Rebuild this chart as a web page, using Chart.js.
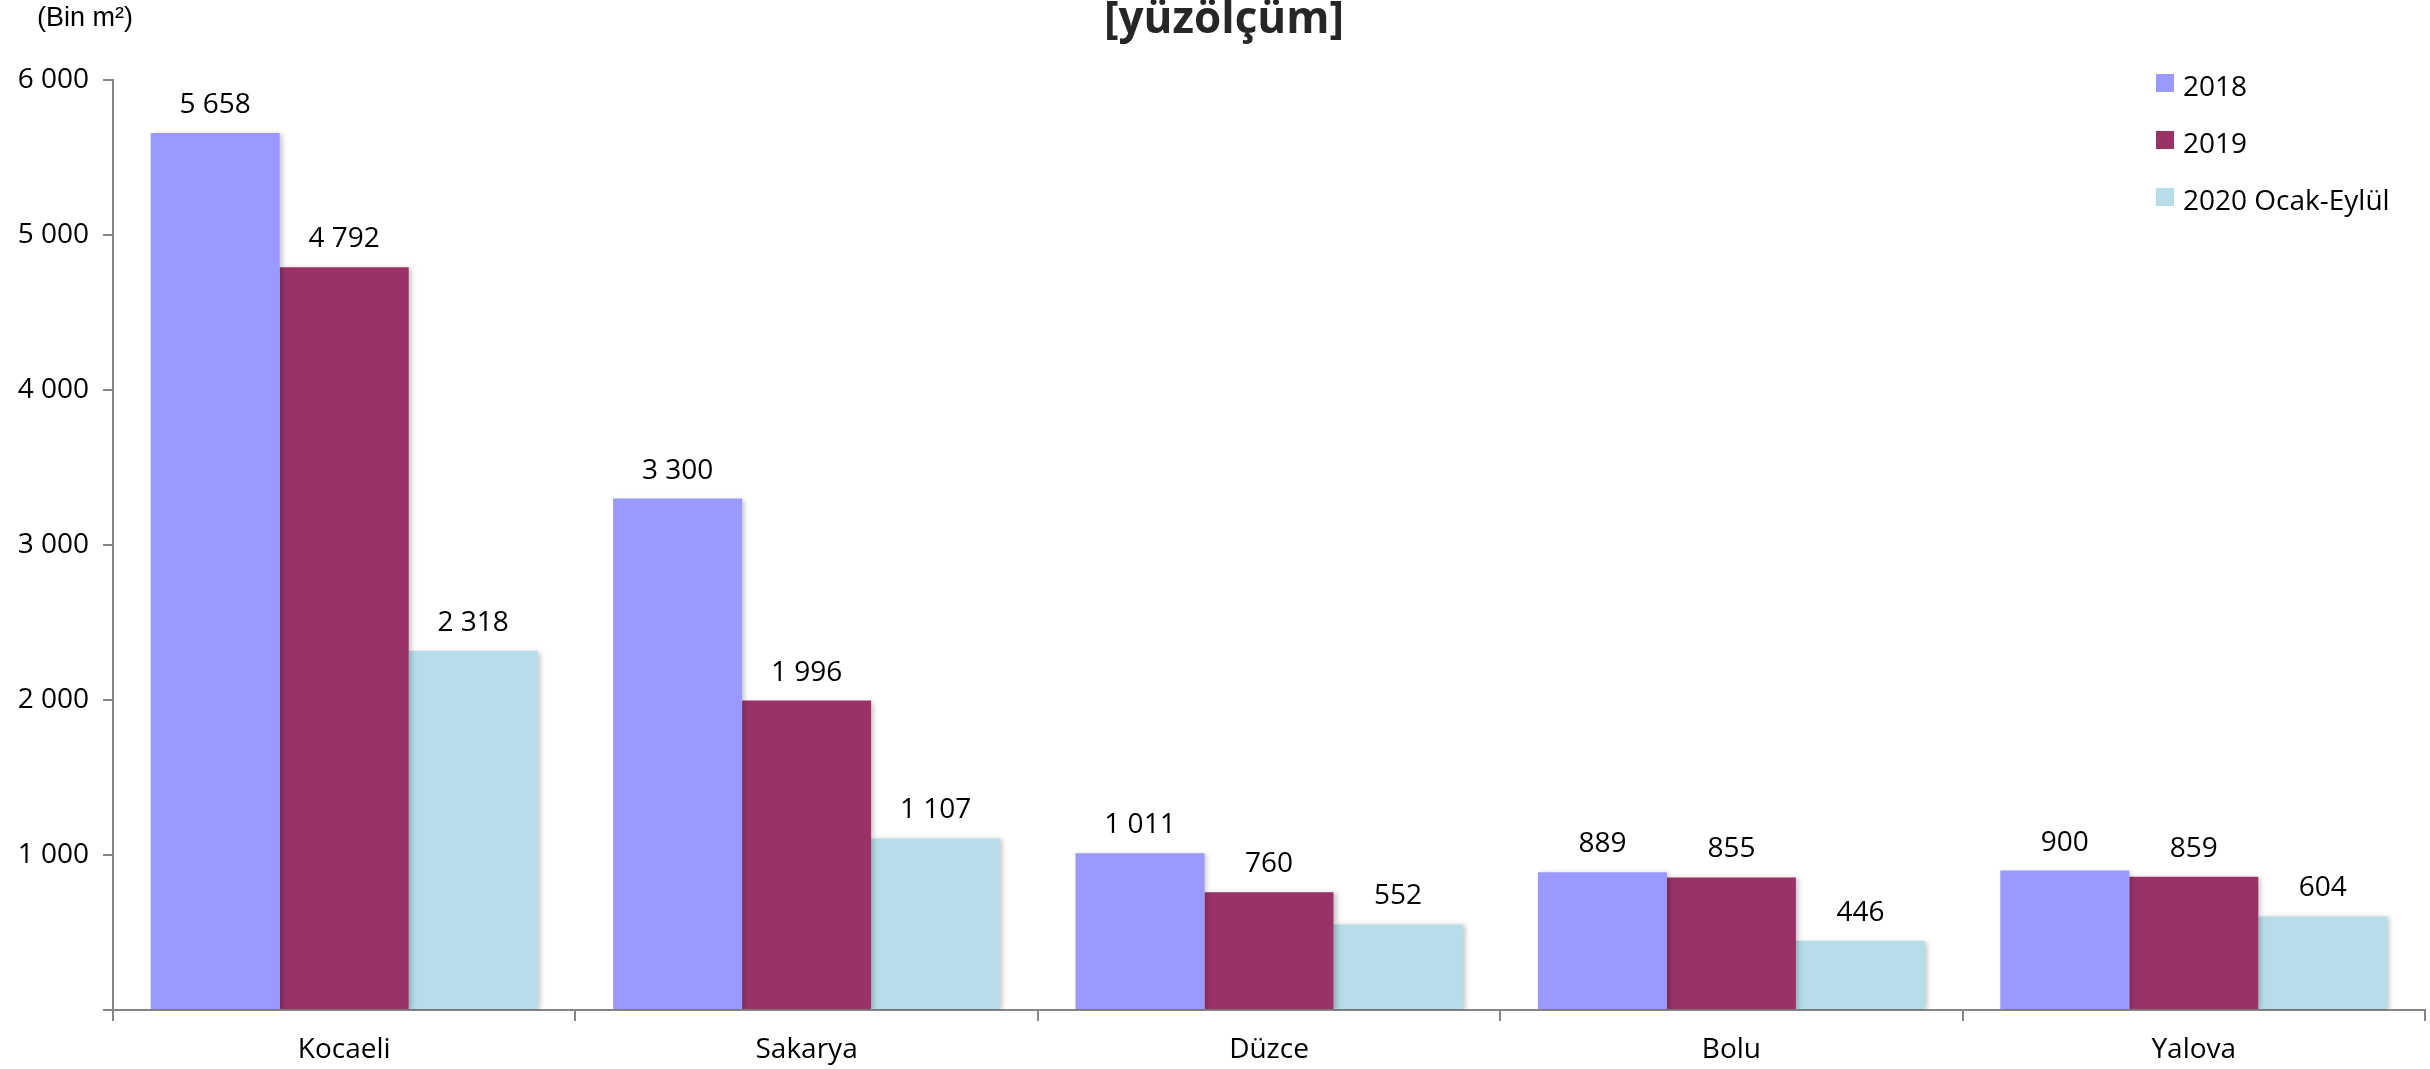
<!DOCTYPE html>
<html>
<head>
<meta charset="utf-8">
<script src="https://cdn.jsdelivr.net/npm/chart.js@4/dist/chart.umd.min.js"></script>
<style>
  html, body { margin: 0; padding: 0; background: #fff; }
  #wrap { position: relative; width: 2430px; height: 1069px; overflow: hidden; }
  #legend { position: absolute; left: 2156px; top: 66px; font-family: "Open Sans", sans-serif; font-size: 28px; color: #000; }
  #legend div { height: 57px; display: flex; align-items: flex-start; }
  #legend span.box { display: inline-block; width: 18px; height: 18px; margin-right: 9px; margin-top: 8px; }
</style>
</head>
<body>
<div id="wrap">
  <canvas id="grafico" width="2430" height="1069"></canvas>
  <div id="legend"></div>
</div>
<script>
// Datos
const iller = ['Kocaeli', 'Sakarya', 'Düzce', 'Bolu', 'Yalova'];
const seriler = ['2018', '2019', '2020 Ocak-Eylül'];
const veri2018 = [5658, 3300, 1011, 889, 900];
const veri2019 = [4792, 1996, 760, 855, 859];
const veri2020 = [2318, 1107, 552, 446, 604];
const renkler = ['#9999FF', '#993366', '#B7DEE8'];
const eksenDegerleri = [0, 1000, 2000, 3000, 4000, 5000, 6000];

const baslik = '[yüzölçüm]';
const birim = '(Bin m²)';

// Sayi formati: 5 658
function formatla(n) {
    return n.toString().replace(/\B(?=(\d{3})+(?!\d))/g, ' ');
}

// Gölge
const golgePlugin = {
    id: 'golge',
    beforeDatasetsDraw(chart) {
        const ctx = chart.ctx;
        ctx.save();
        ctx.shadowColor = 'rgba(0,0,0,0.22)';
        ctx.shadowBlur = 5;
        ctx.shadowOffsetX = 3;
        ctx.shadowOffsetY = 1;
    },
    afterDatasetsDraw(chart) {
        chart.ctx.restore();
    }
};

// Etiketler ve başlık
const etiketPlugin = {
    id: 'etiketler',
    afterDraw(chart) {
        const ctx = chart.ctx;
        ctx.save();
        ctx.fillStyle = '#000';
        ctx.font = '28px "Open Sans"';
        ctx.textAlign = 'center';
        ctx.textBaseline = 'alphabetic';
        chart.data.datasets.forEach((ds, i) => {
            chart.getDatasetMeta(i).data.forEach((bar, j) => {
                ctx.fillText(formatla(ds.data[j]), bar.x, bar.y - 20);
            });
        });

        ctx.fillStyle = '#262626';
        ctx.font = 'bold 44px "Open Sans"';
        ctx.fillText(baslik, 1224, 33);

        ctx.fillStyle = '#000';
        ctx.textAlign = 'left';
        ctx.font = '27px "Liberation Sans"';
        ctx.fillText(birim, 37, 26);
        ctx.restore();
    }
};

const datasets = [veri2018, veri2019, veri2020].map((d, i) => ({
    label: seriler[i],
    data: d,
    backgroundColor: renkler[i],
    borderWidth: 0,
    categoryPercentage: 0.837,
    barPercentage: 1.0
}));

new Chart(document.getElementById('grafico'), {
    type: 'bar',
    data: { labels: iller, datasets: datasets },
    options: {
        responsive: false,
        animation: false,
        events: [],
        layout: { padding: { top: 80, right: 5, left: 0, bottom: 0 } },
        plugins: {
            legend: { display: false },
            tooltip: { enabled: false }
        },
        scales: {
            x: {
                afterFit(scale) { scale.height = 59; },
                grid: {
                    offset: true,
                    drawOnChartArea: false,
                    drawTicks: true,
                    tickLength: 11,
                    color: '#868686',
                    lineWidth: 2
                },
                border: { color: '#868686', width: 2 },
                ticks: {
                    color: '#000',
                    font: { family: 'Open Sans', size: 28 },
                    padding: 12
                }
            },
            y: {
                min: 0,
                max: 6000,
                afterFit(scale) { scale.width = 113; },
                afterBuildTicks(scale) {
                    scale.ticks = eksenDegerleri.map(v => ({ value: v }));
                },
                grid: {
                    drawOnChartArea: false,
                    drawTicks: true,
                    tickLength: 10,
                    color: '#868686',
                    lineWidth: 2
                },
                border: { color: '#868686', width: 2 },
                ticks: {
                    color: '#000',
                    font: { family: 'Open Sans', size: 28 },
                    padding: 14,
                    callback: v => v === 0 ? '' : formatla(v)
                }
            }
        }
    },
    plugins: [golgePlugin, etiketPlugin]
});

// Lejant
const lejant = document.getElementById('legend');
seriler.forEach((s, i) => {
    const satir = document.createElement('div');
    satir.innerHTML = `<span class="box" style="background:${renkler[i]}"></span>${s}`;
    lejant.appendChild(satir);
});
</script>
</body>
</html>
